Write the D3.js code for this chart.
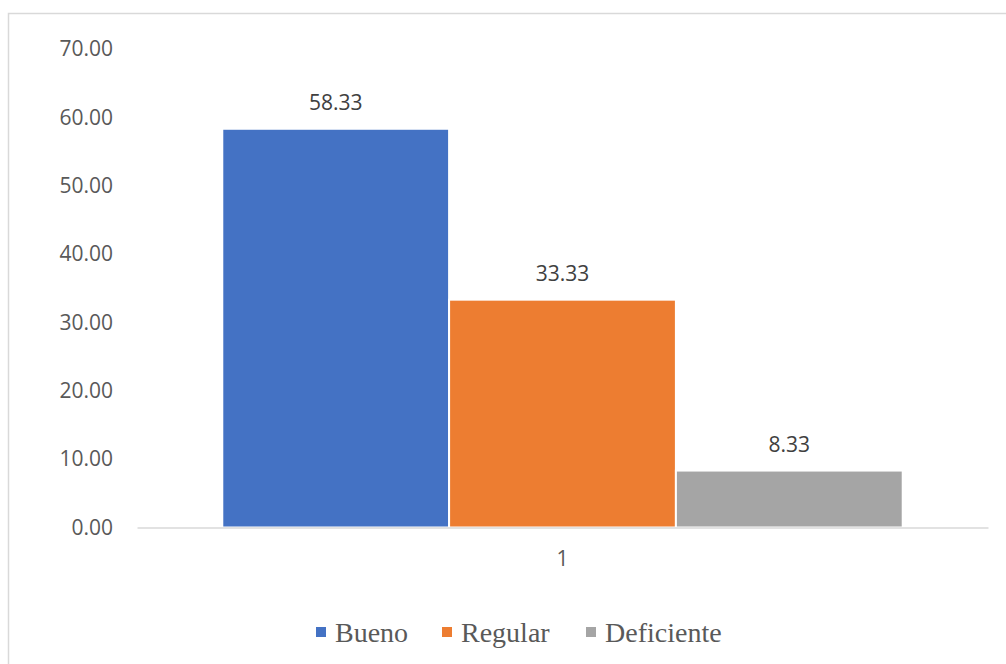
<!DOCTYPE html>
<html>
<head>
<meta charset="utf-8">
<script src="https://cdn.jsdelivr.net/npm/d3@7"></script>
<style>
  body { margin: 0; background: #fff; }
  svg { display: block; }
  .tick text { font-family: "Open Sans", "Noto Sans", sans-serif; font-size: 21px; fill: #595959; }
</style>
</head>
<body>
<svg id="chart" width="1006" height="664"></svg>
<script>
// values
const categories = ["1"];
const series = ["Bueno", "Regular", "Deficiente"];
const values = [58.33, 33.33, 8.33];
const colors = ["#4472c4", "#ed7d31", "#a5a5a5"];
const yTicks = [0, 10, 20, 30, 40, 50, 60, 70];

const margin = { left: 137, right: 18, top: 49, bottom: 137 };
const width = 1006, height = 664;

const svg = d3.select("#chart");

// chart frame
svg.append("rect")
    .attr("x", 8.5).attr("y", 13.5)
    .attr("width", 1010).attr("height", 670)
    .attr("fill", "none")
    .attr("stroke", "#d9d9d9")
    .attr("stroke-width", 1.5);

const xScale = d3.scaleBand().domain(categories)
    .range([margin.left, width - margin.right]);
const innerScale = d3.scaleBand().domain(series)
    .range([0, xScale.bandwidth()])
    .paddingOuter(0.376);
const yScale = d3.scaleLinear().domain([0, 70])
    .range([height - margin.bottom + 0.5, margin.top]);

// y axis (labels only)
const yAxis = d3.axisLeft(yScale)
    .tickValues(yTicks)
    .tickFormat(d3.format(".2f"))
    .tickSize(0)
    .tickPadding(24);
svg.append("g")
    .attr("transform", `translate(${margin.left},0)`)
    .call(yAxis)
    .call(g => g.select(".domain").remove());

// bars
const groups = svg.append("g").selectAll("g")
    .data(categories)
    .join("g")
    .attr("transform", d => `translate(${xScale(d)},0)`);

groups.selectAll("rect")
    .data(series.map((s, i) => ({ s: s, v: values[i], c: colors[i] })))
    .join("rect")
    .attr("x", d => innerScale(d.s))
    .attr("width", innerScale.bandwidth())
    .attr("y", d => yScale(d.v))
    .attr("height", d => yScale(0) - yScale(d.v))
    .attr("fill", d => d.c)
    .attr("stroke", "#fff")
    .attr("stroke-width", 2);

// data labels
groups.selectAll("text.val")
    .data(series.map((s, i) => ({ s: s, v: values[i] })))
    .join("text")
    .attr("class", "val")
    .attr("x", d => innerScale(d.s) + innerScale.bandwidth() / 2)
    .attr("y", d => yScale(d.v) - 19)
    .attr("text-anchor", "middle")
    .attr("font-family", "'Open Sans', 'Noto Sans', sans-serif")
    .attr("font-size", 21)
    .attr("fill", "#404040")
    .text(d => d3.format(".2f")(d.v));

// x axis
const xAxis = d3.axisBottom(xScale).tickSize(0).tickPadding(24);
svg.append("g")
    .attr("transform", `translate(0,${yScale(0)})`)
    .call(xAxis)
    .call(g => g.select(".domain").attr("stroke", "#d9d9d9").attr("stroke-width", 1.5));

// legend
const legendX = [316, 442, 586];
const legend = svg.append("g").selectAll("g")
    .data(series)
    .join("g")
    .attr("transform", (d, i) => `translate(${legendX[i]},627)`);
legend.append("rect")
    .attr("width", 10).attr("height", 10)
    .attr("fill", (d, i) => colors[i]);
legend.append("text")
    .attr("x", 19).attr("y", 15)
    .attr("font-family", "'Liberation Serif', 'Times New Roman', serif")
    .attr("font-size", 28)
    .attr("fill", "#595959")
    .text(d => d);
</script>
</body>
</html>
